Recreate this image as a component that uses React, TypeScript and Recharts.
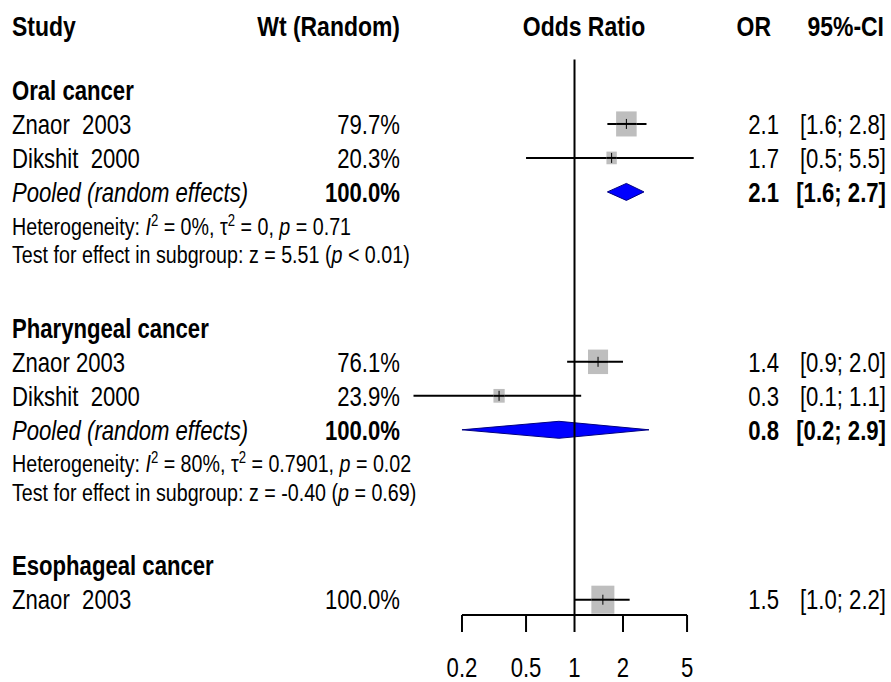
import React from 'react';
import { ComposedChart, XAxis, YAxis, Scatter, Line, Area, ReferenceLine } from 'recharts';

// Forest plot: odds ratios by cancer site (random effects)

const groupNames = ['Oral cancer', 'Pharyngeal cancer', 'Esophageal cancer'];
const groupRows = [2, 9, 16];

const studyNames = ['Znaor  2003', 'Dikshit  2000', 'Znaor 2003', 'Dikshit  2000', 'Znaor  2003'];
const studyRows = [3, 4, 10, 11, 17];
const studyWeights = [79.7, 20.3, 76.1, 23.9, 100.0];
const studyOR = [2.1, 1.7, 1.4, 0.34, 1.5];
const studyLow = [1.6, 0.5, 0.9, 0.1, 1.0];
const studyHigh = [2.8, 5.5, 2.0, 1.1, 2.2];
const studyORText = ['2.1', '1.7', '1.4', '0.3', '1.5'];
const studyCIText = ['[1.6; 2.8]', '[0.5; 5.5]', '[0.9; 2.0]', '[0.1; 1.1]', '[1.0; 2.2]'];

const pooledRows = [5, 12];
const pooledOR = [2.1, 0.8];
const pooledLow = [1.6, 0.2];
const pooledHigh = [2.7, 2.9];
const pooledORText = ['2.1', '0.8'];
const pooledCIText = ['[1.6; 2.7]', '[0.2; 2.9]'];

const hetRows = [6, 13];
const hetI2 = ['0%', '80%'];
const hetTau2 = ['0', '0.7901'];
const hetP = ['0.71', '0.02'];
const testRows = [6.85, 13.85];
const testZ = ['5.51', '-0.40'];
const testP = ['< 0.01', '= 0.69'];

const xTicks = [0.2, 0.5, 1, 2, 5];

const FONT = '"Liberation Sans", Arial, sans-serif';
const SX = 0.82; // narrow look of the original font
const COL_STUDY = 12;
const COL_WT = 400;
const COL_PLOT = 584;
const COL_OR = 779;
const COL_CI = 886;

const textRows = [
  { x: 1, y: 0.12, kind: 'header', i: 0 },
  ...groupRows.map((y, i) => ({ x: 1, y, kind: 'group', i })),
  ...studyRows.map((y, i) => ({ x: 1, y, kind: 'study', i })),
  ...pooledRows.map((y, i) => ({ x: 1, y, kind: 'pooled', i })),
  ...hetRows.map((y, i) => ({ x: 1, y, kind: 'het', i })),
  ...testRows.map((y, i) => ({ x: 1, y, kind: 'test', i })),
];

const boxes = studyRows.map((y, i) => ({ x: studyOR[i], y, weight: studyWeights[i] }));

const T = ({ x, y, anchor = 'start', size = 27, bold = false, italic = false, dy = '0.36em', children }: any) => (
  <text
    transform={`translate(${x},${y}) scale(${SX},1)`}
    textAnchor={anchor}
    fontFamily={FONT}
    fontSize={size}
    fontWeight={bold ? 'bold' : 'normal'}
    fontStyle={italic ? 'italic' : 'normal'}
    fill="#000"
    dy={dy}
    style={{ whiteSpace: 'pre' }}
  >
    {children}
  </text>
);

const RowText = (props: any) => {
  const { cy, payload } = props;
  const { kind, i } = payload;
  if (kind === 'header') {
    return (
      <g>
        <T x={COL_STUDY} y={cy} size={28} bold>Study</T>
        <T x={COL_WT} y={cy} size={28} anchor="end" bold>Wt (Random)</T>
        <T x={COL_PLOT} y={cy} size={28} anchor="middle" bold>Odds Ratio</T>
        <T x={COL_OR - 8} y={cy} size={28} anchor="end" bold>OR</T>
        <T x={COL_CI - 2} y={cy} size={28} anchor="end" bold>95%-CI</T>
      </g>
    );
  }
  if (kind === 'group') {
    return <T x={COL_STUDY} y={cy} bold>{groupNames[i]}</T>;
  }
  if (kind === 'study') {
    return (
      <g>
        <T x={COL_STUDY} y={cy}>{studyNames[i]}</T>
        <T x={COL_WT} y={cy} anchor="end">{`${studyWeights[i].toFixed(1)}%`}</T>
        <T x={COL_OR} y={cy} anchor="end">{studyORText[i]}</T>
        <T x={COL_CI} y={cy} anchor="end">{studyCIText[i]}</T>
      </g>
    );
  }
  if (kind === 'pooled') {
    return (
      <g>
        <T x={COL_STUDY} y={cy} italic>Pooled (random effects)</T>
        <T x={COL_WT} y={cy} anchor="end" bold>100.0%</T>
        <T x={COL_OR} y={cy} anchor="end" bold>{pooledORText[i]}</T>
        <T x={COL_CI} y={cy} anchor="end" bold>{pooledCIText[i]}</T>
      </g>
    );
  }
  if (kind === 'het') {
    return (
      <T x={COL_STUDY} y={cy} size={24}>
        {'Heterogeneity: '}
        <tspan fontStyle="italic">I</tspan>
        <tspan dy={-9} fontSize={16}>2</tspan>
        <tspan dy={9}>{` = ${hetI2[i]}, \u03c4`}</tspan>
        <tspan dy={-9} fontSize={16}>2</tspan>
        <tspan dy={9}>{` = ${hetTau2[i]}, `}</tspan>
        <tspan fontStyle="italic">p</tspan>
        {` = ${hetP[i]}`}
      </T>
    );
  }
  return (
    <T x={COL_STUDY} y={cy} size={24}>
      {`Test for effect in subgroup: z = ${testZ[i]} (`}
      <tspan fontStyle="italic">p</tspan>
      {` ${testP[i]})`}
    </T>
  );
};

const StudyBox = (props: any) => {
  const { cx, cy, payload } = props;
  const w = 23 * Math.sqrt(payload.weight / 100);
  const h = w * 1.22;
  return (
    <g>
      <rect x={cx - w / 2} y={cy - h / 2} width={w} height={h} fill="#bebebe" />
      <line x1={cx - w / 2} x2={cx + w / 2} y1={cy} y2={cy} stroke="#000" strokeWidth={2} />
      <line x1={cx} x2={cx} y1={cy - 5} y2={cy + 5} stroke="#000" strokeWidth={1} />
    </g>
  );
};

const AxisTick = (props: any) => {
  const { x, y, payload } = props;
  return (
    <T x={x} y={y} anchor="middle" dy="0.71em">
      {String(payload.value)}
    </T>
  );
};

export default function App() {
  return (
    <div style={{ position: 'absolute', left: 0, top: 0, background: '#fff' }}>
      <ComposedChart
        width={891}
        height={682}
        margin={{ top: 22, right: 191.2, bottom: 30, left: 413.5 }}
      >
        <XAxis
          type="number"
          dataKey="x"
          scale="log"
          domain={[0.1, 6]}
          ticks={xTicks}
          interval={0}
          axisLine={false}
          tickLine={{ stroke: '#000', strokeWidth: 2 }}
          tickSize={17}
          tickMargin={26}
          height={37}
          tick={<AxisTick />}
        />
        <YAxis type="number" dataKey="y" domain={[0, 17.45]} reversed hide width={0} />

        {pooledRows.map((row, i) => (
          <Area
            key={`pooled-${i}`}
            data={[
              { x: pooledLow[i], band: [row, row] },
              { x: pooledOR[i], band: [row - 0.25, row + 0.25] },
              { x: pooledHigh[i], band: [row, row] },
            ]}
            dataKey="band"
            type="linear"
            fill="#0000ff"
            fillOpacity={1}
            stroke="#000080"
            strokeWidth={1}
            dot={false}
            activeDot={false}
            isAnimationActive={false}
          />
        ))}

        <Scatter data={boxes} shape={<StudyBox />} isAnimationActive={false} />

        {studyRows.map((row, i) => (
          <Line
            key={`ci-${i}`}
            data={[
              { x: studyLow[i], y: row },
              { x: studyHigh[i], y: row },
            ]}
            dataKey="y"
            type="linear"
            stroke="#000"
            strokeWidth={2}
            dot={false}
            activeDot={false}
            isAnimationActive={false}
          />
        ))}

        <ReferenceLine segment={[{ x: 1, y: 1.1 }, { x: 1, y: 17.45 }]} stroke="#000" strokeWidth={2} />
        <ReferenceLine segment={[{ x: 0.2, y: 17.45 }, { x: 5, y: 17.45 }]} stroke="#000" strokeWidth={2} />

        <Scatter data={textRows} shape={<RowText />} isAnimationActive={false} />
      </ComposedChart>
    </div>
  );
}
